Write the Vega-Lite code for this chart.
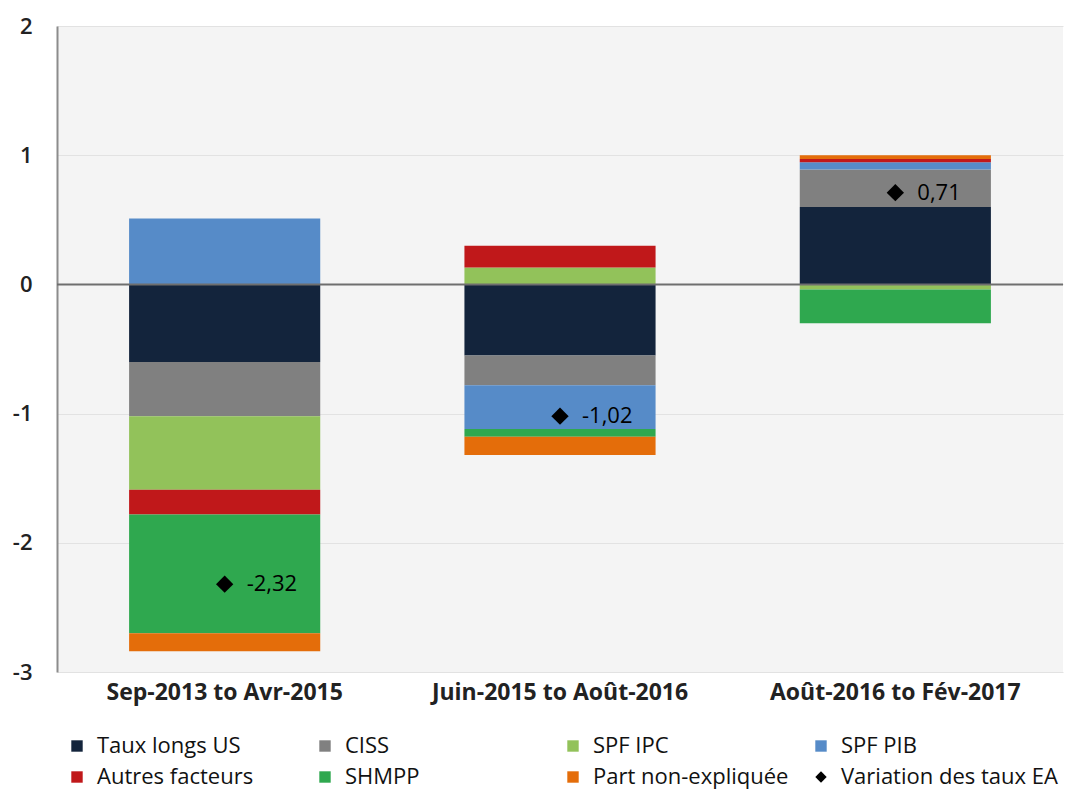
{
  "$schema": "https://vega.github.io/schema/vega-lite/v6.json",
  "width": 1006,
  "height": 646,
  "autosize": {"type": "none"},
  "padding": {"left": 57, "top": 26, "right": 4, "bottom": 118},
  "config": {
    "font": "Open Sans",
    "view": {"fill": "#f4f4f4", "stroke": null},
    "locale": {"number": {"decimal": ",", "thousands": " ", "grouping": [3], "currency": ["", " €"], "minus": "-"}}
  },
  "datasets": {
    "bars": [
      {"periode": "Sep-2013 to Avr-2015", "serie": "Taux longs US", "k": 1, "valeur": -0.60},
      {"periode": "Sep-2013 to Avr-2015", "serie": "CISS", "k": 2, "valeur": -0.42},
      {"periode": "Sep-2013 to Avr-2015", "serie": "SPF IPC", "k": 3, "valeur": -0.57},
      {"periode": "Sep-2013 to Avr-2015", "serie": "SPF PIB", "k": 4, "valeur": 0.51},
      {"periode": "Sep-2013 to Avr-2015", "serie": "Autres facteurs", "k": 5, "valeur": -0.19},
      {"periode": "Sep-2013 to Avr-2015", "serie": "SHMPP", "k": 6, "valeur": -0.92},
      {"periode": "Sep-2013 to Avr-2015", "serie": "Part non-expliquée", "k": 7, "valeur": -0.14},
      {"periode": "Juin-2015 to Août-2016", "serie": "Taux longs US", "k": 1, "valeur": -0.55},
      {"periode": "Juin-2015 to Août-2016", "serie": "CISS", "k": 2, "valeur": -0.23},
      {"periode": "Juin-2015 to Août-2016", "serie": "SPF IPC", "k": 3, "valeur": 0.13},
      {"periode": "Juin-2015 to Août-2016", "serie": "SPF PIB", "k": 4, "valeur": -0.34},
      {"periode": "Juin-2015 to Août-2016", "serie": "Autres facteurs", "k": 5, "valeur": 0.17},
      {"periode": "Juin-2015 to Août-2016", "serie": "SHMPP", "k": 6, "valeur": -0.06},
      {"periode": "Juin-2015 to Août-2016", "serie": "Part non-expliquée", "k": 7, "valeur": -0.14},
      {"periode": "Août-2016 to Fév-2017", "serie": "Taux longs US", "k": 1, "valeur": 0.60},
      {"periode": "Août-2016 to Fév-2017", "serie": "CISS", "k": 2, "valeur": 0.29},
      {"periode": "Août-2016 to Fév-2017", "serie": "SPF IPC", "k": 3, "valeur": -0.04},
      {"periode": "Août-2016 to Fév-2017", "serie": "SPF PIB", "k": 4, "valeur": 0.055},
      {"periode": "Août-2016 to Fév-2017", "serie": "Autres facteurs", "k": 5, "valeur": 0.025},
      {"periode": "Août-2016 to Fév-2017", "serie": "SHMPP", "k": 6, "valeur": -0.26},
      {"periode": "Août-2016 to Fév-2017", "serie": "Part non-expliquée", "k": 7, "valeur": 0.03}
    ],
    "totals": [
      {"periode": "Sep-2013 to Avr-2015", "serie": "Variation des taux EA", "valeur": -2.32},
      {"periode": "Juin-2015 to Août-2016", "serie": "Variation des taux EA", "valeur": -1.02},
      {"periode": "Août-2016 to Fév-2017", "serie": "Variation des taux EA", "valeur": 0.71}
    ]
  },
  "layer": [
    {
      "data": {"name": "bars"},
      "mark": {"type": "bar"},
      "encoding": {
        "x": {
          "field": "periode", "type": "nominal",
          "sort": ["Sep-2013 to Avr-2015", "Juin-2015 to Août-2016", "Août-2016 to Fév-2017"],
          "scale": {"paddingInner": 0.43, "paddingOuter": 0.215},
          "axis": {"title": null, "domain": false, "ticks": false, "grid": false, "labelAngle": 0, "labelFontSize": 23, "labelFontWeight": "bold", "labelPadding": 9, "labelColor": "#222222", "labelLimit": 400}
        },
        "y": {
          "field": "valeur", "type": "quantitative",
          "scale": {"domain": [-3, 2], "nice": false, "zero": false},
          "axis": {"title": null, "values": [-3, -2, -1, 0, 1, 2], "format": "d", "ticks": false, "domainColor": "#8c8c8c", "domainWidth": 2, "gridColor": "#e2e2e2", "gridWidth": 1, "labelFontSize": 22, "labelFontWeight": 600, "labelPadding": 25, "labelColor": "#222222"}
        },
        "color": {
          "field": "serie", "type": "nominal",
          "scale": {
            "domain": ["Taux longs US", "CISS", "SPF IPC", "SPF PIB", "Autres facteurs", "SHMPP", "Part non-expliquée", "Variation des taux EA"],
            "range": ["#13243c", "#808080", "#92c25a", "#568bc8", "#c0181a", "#2fa84f", "#e46d0a", "#000000"]
          },
          "legend": {
            "title": null, "orient": "none", "legendX": 9, "legendY": 709,
            "direction": "horizontal", "columns": 4, "gridAlign": "all",
            "columnPadding": 0, "rowPadding": 9, "labelFontSize": 22, "labelColor": "#111111",
            "labelLimit": 400, "symbolSize": 130, "symbolStrokeWidth": 0, "labelOffset": 9
          }
        },
        "order": {"field": "k", "type": "quantitative"}
      }
    },
    {
      "data": {"values": [{}]},
      "mark": {"type": "rule", "color": "#6e6e6e", "strokeWidth": 2},
      "encoding": {"y": {"datum": 0}}
    },
    {
      "data": {"name": "totals"},
      "mark": {"type": "point", "filled": true, "size": 300, "opacity": 1},
      "encoding": {
        "x": {"field": "periode", "type": "nominal", "sort": ["Sep-2013 to Avr-2015", "Juin-2015 to Août-2016", "Août-2016 to Fév-2017"]},
        "y": {"field": "valeur", "type": "quantitative"},
        "color": {"field": "serie", "type": "nominal"},
        "shape": {
          "field": "serie", "type": "nominal",
          "scale": {
            "domain": ["Taux longs US", "CISS", "SPF IPC", "SPF PIB", "Autres facteurs", "SHMPP", "Part non-expliquée", "Variation des taux EA"],
            "range": ["square", "square", "square", "square", "square", "square", "square", "diamond"]
          }
        }
      }
    },
    {
      "data": {"name": "totals"},
      "mark": {"type": "text", "align": "left", "baseline": "middle", "dx": 22, "fontSize": 22, "color": "#000000"},
      "encoding": {
        "x": {"field": "periode", "type": "nominal", "sort": ["Sep-2013 to Avr-2015", "Juin-2015 to Août-2016", "Août-2016 to Fév-2017"]},
        "y": {"field": "valeur", "type": "quantitative"},
        "text": {"field": "valeur", "type": "quantitative", "format": ".2f"}
      }
    }
  ]
}
